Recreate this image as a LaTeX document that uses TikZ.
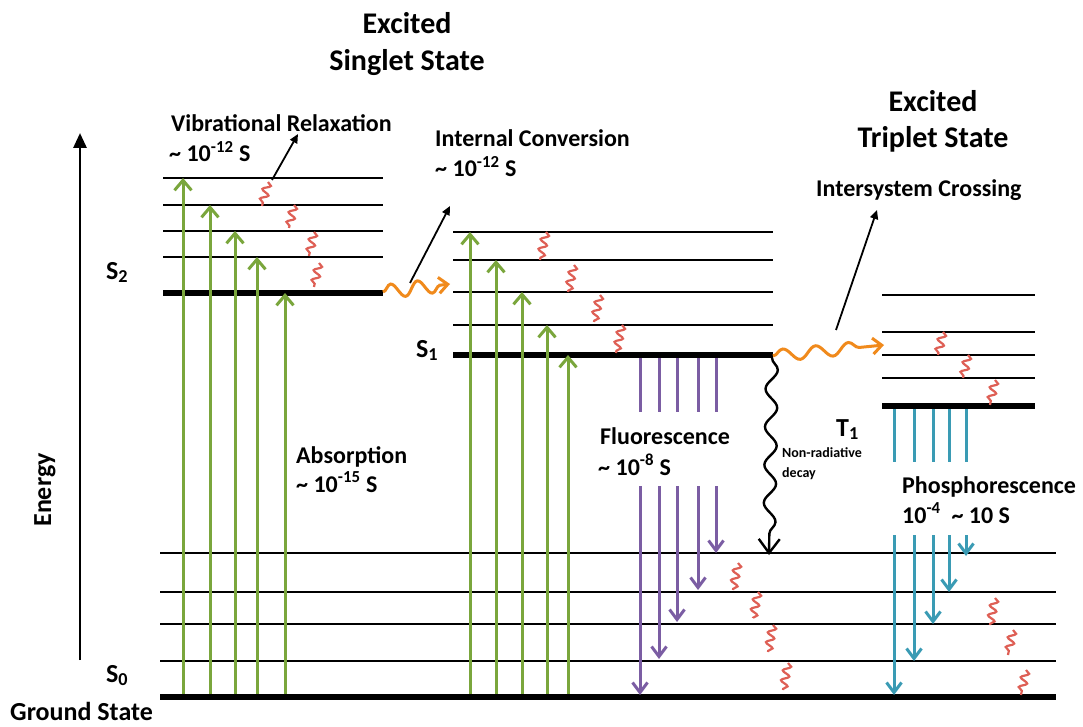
\documentclass[tikz,border=0pt]{standalone}
\usepackage{fontspec}
\setmainfont{Carlito}
\usetikzlibrary{arrows.meta,decorations.pathmorphing}

\definecolor{absgreen}{HTML}{7AA63C}
\definecolor{fluopurple}{HTML}{7B5DA3}
\definecolor{phosteal}{HTML}{3A9BB4}
\definecolor{iscorange}{HTML}{F08A1C}
\definecolor{relaxred}{HTML}{DE5F55}

\newcommand\titlefont{\fontsize{30}{36}\selectfont\bfseries}
\newcommand\lblfont{\fontsize{24}{29}\selectfont\bfseries}
\newcommand\statefont{\fontsize{26}{30}\selectfont\bfseries}
\newcommand\smallfont{\fontsize{14}{17}\selectfont\bfseries}

\begin{document}
\begin{tikzpicture}[x=1pt,y=-1pt,
  lvl/.style={line width=2.2pt},
  mainlvl/.style={line width=6pt},
  txt/.style={inner sep=0pt, anchor=base west},
  ctxt/.style={inner sep=0pt, anchor=base},
  absarrow/.style={absgreen, line width=3pt, -{Straight Barb[length=10pt,width=17pt]}},
  fluoline/.style={fluopurple, line width=3pt},
  fluoarrow/.style={fluoline, -{Straight Barb[length=10pt,width=15pt]}},
  phosline/.style={phosteal, line width=3pt},
  phosarrow/.style={phosline, -{Straight Barb[length=10pt,width=15pt]}},
  relax/.style={relaxred, line width=2.2pt, decorate,
    decoration={snake, amplitude=3.8pt, segment length=10pt}},
  pointer/.style={black, line width=1.8pt, -{Triangle[length=9pt,width=8pt]}},
  wavearrow/.style={iscorange, line width=3pt, decorate,
    decoration={snake, amplitude=7pt, segment length=27pt, post length=8pt},
    -{Straight Barb[length=9pt,width=16pt]}}
]
\useasboundingbox (0,0) rectangle (1083,727);

% ---------- energy axis ----------
\draw[line width=2.8pt, -{Triangle[length=15pt,width=13pt]}] (80,660) -- (80,133);
\node[rotate=90, inner sep=0pt, font=\statefont] (energy) at (45,490) {Energy};

% ---------- singlet S2 manifold ----------
\foreach \y in {178,205,231,257} \draw[lvl] (163,\y) -- (383,\y);
\draw[mainlvl] (163,293) -- (383,293);

% ---------- singlet S1 manifold ----------
\foreach \y in {232,260,292,325} \draw[lvl] (453,\y) -- (773,\y);
\draw[mainlvl] (453,355) -- (773,355);

% ---------- triplet T1 manifold ----------
\foreach \y in {295,332,355,378} \draw[lvl] (882,\y) -- (1035,\y);
\draw[mainlvl] (882,406) -- (1035,406);

% ---------- ground state S0 manifold ----------
\foreach \y in {553,592,624,661} \draw[lvl] (160,\y) -- (1056,\y);
\draw[mainlvl] (160,697) -- (1056,697);

% ---------- absorption ----------
\foreach \x/\y in {183/178,210/205,235/231,257/257,285/293}
  \draw[absarrow] (\x,694) -- (\x,\y);
\foreach \x/\y in {470/232,496/260,522/292,547/325,568/355}
  \draw[absarrow] (\x,694) -- (\x,\y);

% ---------- vibrational relaxation ----------
\foreach \xa/\ya/\xb/\yb in {
   268/182/262/206, 294/205/289/228, 314/232/309/256, 319/263/314/287,
   546/232/540/260, 574/265/568/292, 600/295/594/322, 622/325/616/353,
   943/332/938/355, 968/355/963/378, 995/380/990/405,
   738/563/733/590, 758/592/753/618, 773/625/768/652, 788/663/783/690,
   995/598/990/625, 1013/630/1008/655, 1026/670/1021/695}
  \draw[relax] (\xa,\ya) -- (\xb,\yb);

% ---------- fluorescence ----------
\foreach \x in {640,659,677,698,716}
  \draw[fluoline] (\x,358) -- (\x,412);
\foreach \x/\y in {640/695,659/659,677/622,698/590,716/553}
  \draw[fluoarrow] (\x,486) -- (\x,\y);

% ---------- phosphorescence ----------
\foreach \x in {894,914,933,949,966}
  \draw[phosline] (\x,409) -- (\x,462);
\foreach \x/\y in {894/695,914/661,933/624,949/592,966/556}
  \draw[phosarrow] (\x,535) -- (\x,\y);

% ---------- internal conversion and intersystem crossing ----------
\coordinate (s2end) at (383,292);
\coordinate (s1head) at (450,284);
\coordinate (s1end) at (773,356);
\coordinate (t1head) at (884,345);
\draw[wavearrow] (s2end) -- (s1head);
\draw[wavearrow, decoration={snake, amplitude=6pt, segment length=33pt, post length=9pt}] (s1end) -- (t1head);

% ---------- non-radiative decay ----------
\coordinate (nrend) at (769,555);
\draw[black, line width=2.4pt, decorate,
  decoration={snake, amplitude=6pt, segment length=38pt, post length=16pt},
  -{Straight Barb[length=14pt,width=21pt]}] (772,358) -- (nrend);

% ---------- titles ----------
\node[ctxt, font=\titlefont] (sgltA) at (407,34) {Excited};
\node[ctxt, font=\titlefont] (sgltB) at (407,71) {Singlet State};
\node[ctxt, font=\titlefont] (trplA) at (933,112) {Excited};
\node[ctxt, font=\titlefont] (trplB) at (933,148) {Triplet State};

% ---------- process labels ----------
\node[txt, font=\lblfont] (vr) at (171,132) {Vibrational Relaxation};
\node[txt, font=\lblfont] (vrt) at (169,162) {\textasciitilde{} 10\textsuperscript{-12} S};
\node[txt, font=\lblfont] (ic) at (435,147) {Internal Conversion};
\node[txt, font=\lblfont] (ict) at (435,177) {\textasciitilde{} 10\textsuperscript{-12} S};
\node[txt, font=\lblfont] (isc) at (816,197) {Intersystem Crossing};
\node[txt, font=\lblfont] (abs) at (296,463) {Absorption};
\node[txt, font=\lblfont] (abst) at (296,492) {\textasciitilde{} 10\textsuperscript{-15} S};
\node[txt, font=\lblfont] (fl) at (600,444) {Fluorescence};
\node[txt, font=\lblfont] (flt) at (598,475) {\textasciitilde{} 10\textsuperscript{-8} S};
\node[txt, font=\lblfont] (ph) at (902,493) {Phosphorescence};
\node[txt, font=\lblfont] (pht) at (902,523) {10\textsuperscript{-4}\ \ \textasciitilde{} 10 S};
\node[txt, font=\smallfont] (nr) at (782,457) {Non-radiative};
\node[txt, font=\smallfont] (nrt) at (782,477) {decay};

% ---------- pointers to labels ----------
\coordinate (vrfoot) at (272,180);
\coordinate (icfoot) at (410,283);
\coordinate (iscfoot) at (836,330);
\draw[pointer] (vrfoot) -- (298,134);
\draw[pointer] (icfoot) -- (450,206);
\draw[pointer] (iscfoot) -- (877,210);

% ---------- state labels ----------
\node[txt, font=\statefont] (s2) at (106,279) {S\textsubscript{2}};
\node[txt, font=\statefont] (s1) at (416,357) {S\textsubscript{1}};
\node[txt, font=\statefont] (t1) at (836,436) {T\textsubscript{1}};
\node[txt, font=\statefont] (s0) at (106,682) {S\textsubscript{0}};
\node[txt, font=\statefont] (gs) at (10,720) {Ground State};
\end{tikzpicture}
\end{document}
